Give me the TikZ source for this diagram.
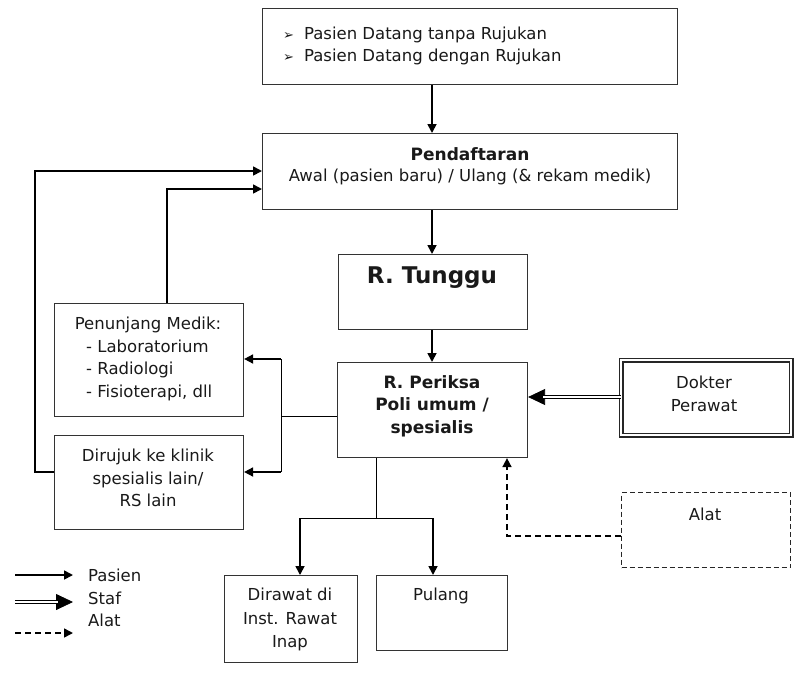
\documentclass[tikz,border=0pt]{standalone}
\usepackage{fontspec}
\setmainfont{DejaVu Sans}
\usetikzlibrary{arrows.meta}
\begin{document}
\begin{tikzpicture}[x=1pt,y=-1pt,
  box/.style={draw=black!80, line width=1.1pt, inner sep=0pt, anchor=north west},
  txt/.style={font=\fontsize{16.5}{22.5}\selectfont, align=center, inner sep=0pt, text=black!90},
  btxt/.style={font=\fontsize{17}{22.5}\selectfont\bfseries, align=center, inner sep=0pt, text=black!90},
  pasien/.style={line width=1.7pt, -{Triangle[length=9pt,width=9pt]}},
  plain/.style={line width=1pt},
  stafhead/.style={line width=0.8pt, -{Triangle[length=17pt,width=16pt]}},
  stafline/.style={double, double distance=2pt, line width=0.9pt, shorten >=15pt},
  alat/.style={line width=1.6pt, dash pattern=on 6pt off 4pt, -{Triangle[length=9pt,width=9pt]}},
  dashbox/.style={draw=black!85, line width=1.1pt, dash pattern=on 5pt off 3pt, inner sep=0pt, anchor=north west}
]
\useasboundingbox (0,0) rectangle (795,672);

% boxes
\node[box, minimum width=415pt, minimum height=76pt] (asal) at (262,8) {};
\node[box, minimum width=415pt, minimum height=76pt] (daftar) at (262,133) {};
\node[box, minimum width=189pt, minimum height=75pt] (tunggu) at (338,254) {};
\node[box, minimum width=190pt, minimum height=95pt] (periksa) at (337,362) {};
\node[box, minimum width=189pt, minimum height=113pt] (penunjang) at (54,303) {};
\node[box, minimum width=189pt, minimum height=94pt] (rujuk) at (54,435) {};
\node[box, draw=black!85, double, double distance=2.5pt, line width=1.2pt,
      minimum width=170pt, minimum height=75pt] (dokter) at (620.5,359.5) {};
\node[dashbox, minimum width=169pt, minimum height=75pt] (alatbox) at (621,492) {};
\node[box, minimum width=133pt, minimum height=87pt] (inap) at (224,575) {};
\node[box, minimum width=131pt, minimum height=75pt] (pulang) at (376,575) {};

% texts
\node[txt, anchor=west] (t1) at (283,35) {\fontsize{13}{13}\selectfont ➢\hspace{10pt}\fontsize{16.5}{16.5}\selectfont Pasien Datang tanpa Rujukan};
\node[txt, anchor=west] (t2) at (283,57) {\fontsize{13}{13}\selectfont ➢\hspace{10pt}\fontsize{16.5}{16.5}\selectfont Pasien Datang dengan Rujukan};
\node[btxt] (t3) at (470,154) {Pendaftaran};
\node[txt] (t4) at (470,177) {Awal (pasien baru) / Ulang (\& rekam medik)};
\node[btxt, font=\fontsize{23}{23}\selectfont\bfseries] (t5) at (432,278) {R. Tunggu};
\node[btxt, anchor=north] (t6) at (432,375) {R. Periksa\\Poli umum /\\spesialis};
\node[txt, anchor=north] (t7) at (148,317) {Penunjang Medik:};
\node[txt, anchor=north west, align=left] (t8) at (86,339.5) {- Laboratorium\\- Radiologi\\- Fisioterapi, dll};
\node[txt, anchor=north] (t9) at (148,449) {Dirujuk ke klinik\\spesialis lain/\\RS lain};
\node[txt, anchor=north] (t10) at (704,376) {Dokter\\Perawat};
\node[txt] (t11) at (705,514) {Alat};
\node[txt, anchor=north, font=\fontsize{16.5}{23.5}\selectfont] (t12) at (290,588) {Dirawat di\\Inst. Rawat\\Inap};
\node[txt] (t13) at (441,596) {Pulang};

% patient flow
\draw[pasien] (asal.south -| 432,0) -- (daftar.north -| 432,0);
\draw[pasien] (daftar.south -| 432,0) -- (tunggu.north -| 432,0);
\draw[pasien] (tunggu.south -| 432,0) -- (periksa.north -| 432,0);

% from examination room to supporting services / referral
\coordinate (sp) at (281,416);
\draw[plain] (periksa.west |- sp) -- (sp);
\coordinate (spa) at (281,359);
\coordinate (spb) at (281,472);
\draw[plain] (spa) -- (spb);
\draw[pasien] (spa) -- (penunjang.east |- spa);
\draw[pasien] (spb) -- (rujuk.east |- spb);

% return paths to registration
\coordinate (ra) at (35,171);
\coordinate (rb) at (35,472);
\draw[pasien] (rujuk.west |- rb) -- (rb) -- (ra) -- (daftar.west |- ra);
\coordinate (rc) at (167,189);
\draw[pasien] (penunjang.north -| rc) -- (rc) -- (daftar.west |- rc);

% exits
\coordinate (ex) at (376,518);
\draw[plain] (periksa.south -| ex) -- (ex);
\coordinate (exl) at (300,518);
\coordinate (exr) at (433,518);
\draw[plain] (exl) -- (exr);
\draw[pasien] (exl) -- (inap.north -| exl);
\draw[pasien] (exr) -- (pulang.north -| exr);

% staff arrow (double line)
\coordinate (sy) at (0,397);
\draw[stafhead] (dokter.west |- sy) -- (periksa.east |- sy);
\draw[stafline] (dokter.west |- sy) -- (periksa.east |- sy);

% equipment arrow (dashed)
\coordinate (al) at (507,536);
\draw[alat] (alatbox.west |- al) -- (al) -- (periksa.south -| al);

% legend
\coordinate (l1a) at (15,575);
\coordinate (l1b) at (73,575);
\coordinate (l2a) at (15,602);
\coordinate (l2b) at (73,602);
\coordinate (l3a) at (15,633);
\coordinate (l3b) at (73,633);
\draw[pasien] (l1a) -- (l1b);
\draw[stafhead] (l2a) -- (l2b);
\draw[stafline] (l2a) -- (l2b);
\draw[alat] (l3a) -- (l3b);
\node[txt, anchor=west] (lg1) at (88,575) {Pasien};
\node[txt, anchor=west] (lg2) at (88,598) {Staf};
\node[txt, anchor=west] (lg3) at (88,620) {Alat};
\end{tikzpicture}
\end{document}
